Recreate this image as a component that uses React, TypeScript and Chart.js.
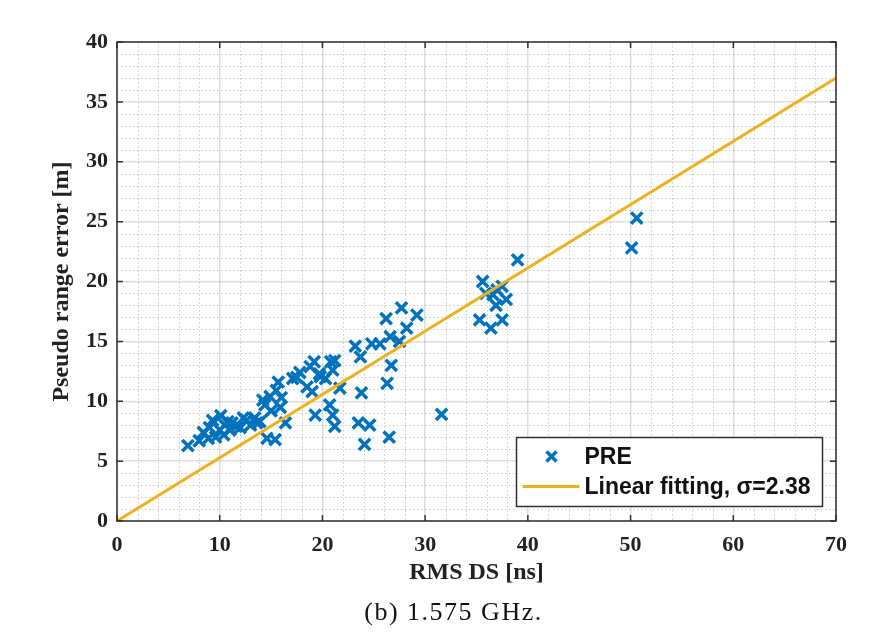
import React, { useEffect, useRef } from "react";
import { Chart, registerables } from "chart.js";
Chart.register(...registerables);

// PRE scatter data (RMS DS [ns], pseudo range error [m])
const preX = [
  6.9, 8.4, 8.9, 9.3, 10.1, 10.8, 11.6, 12.6, 13.4, 13.9, 14.6, 15.4, 16.4, 14.2, 14.9,
  15.7, 15.9, 15.5, 17.1, 8.0, 9.6, 10.0, 10.5, 11.2, 12.0, 12.3, 13.0, 9.0, 10.4, 11.0,
  13.6, 14.4, 15.0, 16.0, 18.8, 19.7, 18.5, 21.2, 21.7, 19.3, 20.7, 21.0, 21.2, 23.2, 23.7,
  23.8, 23.5, 24.6, 24.1, 26.5, 26.3, 26.7, 24.8, 25.6, 26.6, 27.5, 26.2, 28.2, 27.7, 29.2,
  31.6, 35.6, 37.5, 36.6, 37.9, 36.9, 35.3, 36.4, 37.5, 39.0, 50.1, 50.6, 20.3, 20.8, 19.2,
  17.8, 17.5, 19.0, 35.9, 37.0, 21.0, 19.8,
];
const preY = [
  6.3, 7.4, 6.9, 8.4, 8.8, 8.3, 7.9, 8.4, 8.6, 8.3, 6.9, 6.8, 8.2, 10.1, 10.4,
  11.6, 9.5, 10.9, 11.9, 6.7, 7.0, 7.6, 8.0, 8.2, 7.8, 8.6, 8.0, 7.8, 7.2, 7.6,
  8.2, 9.7, 9.2, 10.3, 12.9, 12.3, 11.2, 13.4, 11.1, 8.85, 9.7, 8.85, 7.9, 14.6, 13.7,
  10.7, 8.2, 8.0, 6.4, 7.0, 11.5, 13.0, 14.8, 14.8, 15.4, 15.0, 16.9, 16.1, 17.8, 17.2,
  8.9, 20.0, 19.6, 18.9, 18.5, 18.0, 16.8, 16.1, 16.8, 21.8, 22.8, 25.3, 11.9, 13.3, 13.3,
  12.4, 12.0, 10.8, 19.0, 19.3, 12.6, 12.05,
];

// Linear fit endpoints
const fitX = [0, 70];
const fitY = [0, 37];

const xMin = 0, xMax = 70, xMajor = 10, xMinor = 2;
const yMin = 0, yMax = 40, yMajor = 5, yMinor = 1;

const xLabel = "RMS DS [ns]";
const yLabel = "Pseudo range error [m]";
const caption = "(b) 1.575 GHz.";
const seriesLabels = ["PRE", "Linear fitting, \u03c3=2.38"];

const BLUE = "#0072BD";
const GOLD = "#EDB120";
const SERIF = "'Liberation Serif', 'Times New Roman', serif";
const SANS = "'Liberation Sans', Arial, sans-serif";

const minorGridPlugin = {
  id: "minorGrid",
  beforeDatasetsDraw(chart: any) {
    const { ctx, chartArea: a, scales } = chart;
    const xs = scales.x, ys = scales.y;
    ctx.save();
    ctx.strokeStyle = "rgba(0,0,0,0.2)";
    ctx.lineWidth = 1;
    ctx.setLineDash([1.5, 2.5]);
    for (let v = xMin + xMinor; v < xMax; v += xMinor) {
      if (Math.abs(v / xMajor - Math.round(v / xMajor)) < 1e-6) continue;
      const px = Math.round(xs.getPixelForValue(v)) + 0.5;
      ctx.beginPath();
      ctx.moveTo(px, a.top);
      ctx.lineTo(px, a.bottom);
      ctx.stroke();
    }
    for (let v = yMin + yMinor; v < yMax; v += yMinor) {
      if (Math.abs(v / yMajor - Math.round(v / yMajor)) < 1e-6) continue;
      const py = Math.round(ys.getPixelForValue(v)) + 0.5;
      ctx.beginPath();
      ctx.moveTo(a.left, py);
      ctx.lineTo(a.right, py);
      ctx.stroke();
    }
    ctx.restore();
  },
};

const framePlugin = {
  id: "frame",
  afterDatasetsDraw(chart: any) {
    const { ctx, chartArea: a, scales } = chart;
    ctx.save();
    ctx.strokeStyle = "#303030";
    ctx.lineWidth = 1.5;
    ctx.setLineDash([]);
    ctx.strokeRect(a.left, a.top, a.right - a.left, a.bottom - a.top);
    const tl = 6;
    ctx.beginPath();
    for (let v = xMin; v <= xMax; v += xMajor) {
      const px = scales.x.getPixelForValue(v);
      ctx.moveTo(px, a.bottom);
      ctx.lineTo(px, a.bottom - tl);
      ctx.moveTo(px, a.top);
      ctx.lineTo(px, a.top + tl);
    }
    for (let v = yMin; v <= yMax; v += yMajor) {
      const py = scales.y.getPixelForValue(v);
      ctx.moveTo(a.left, py);
      ctx.lineTo(a.left + tl, py);
      ctx.moveTo(a.right, py);
      ctx.lineTo(a.right - tl, py);
    }
    ctx.stroke();
    ctx.restore();
  },
};

const legendPlugin = {
  id: "boxLegend",
  afterDraw(chart: any) {
    const { ctx, chartArea: a } = chart;
    const ds = chart.data.datasets;
    const w = 306, h = 69;
    const x0 = a.right - 13.5 - w;
    const y0 = a.bottom - 14.5 - h;
    ctx.save();
    ctx.fillStyle = "#ffffff";
    ctx.fillRect(x0, y0, w, h);
    ctx.strokeStyle = "#303030";
    ctx.lineWidth = 1.5;
    ctx.strokeRect(x0, y0, w, h);
    // row 1: marker
    const r1 = y0 + 19;
    const mx = x0 + 35;
    const off = 5;
    ctx.strokeStyle = ds[0].borderColor;
    ctx.lineWidth = 3.5;
    ctx.beginPath();
    ctx.moveTo(mx - off, r1 - off);
    ctx.lineTo(mx + off, r1 + off);
    ctx.moveTo(mx + off, r1 - off);
    ctx.lineTo(mx - off, r1 + off);
    ctx.stroke();
    // row 2: line
    const r2 = y0 + 49;
    ctx.strokeStyle = ds[1].borderColor;
    ctx.lineWidth = 3;
    ctx.beginPath();
    ctx.moveTo(x0 + 6, r2);
    ctx.lineTo(x0 + 63, r2);
    ctx.stroke();
    ctx.fillStyle = "#111111";
    ctx.font = `bold 23px ${SANS}`;
    ctx.textBaseline = "middle";
    ctx.textAlign = "left";
    ctx.fillText(ds[0].label, x0 + 68, r1 + 1);
    ctx.fillText(ds[1].label, x0 + 68, r2 + 1);
    ctx.restore();
  },
};

const captionPlugin = {
  id: "caption",
  afterDraw(chart: any) {
    const { ctx, chartArea: a } = chart;
    ctx.save();
    ctx.fillStyle = "#111111";
    ctx.font = `26px ${SERIF}`;
    (ctx as any).letterSpacing = "1.5px";
    ctx.textAlign = "center";
    ctx.textBaseline = "middle";
    ctx.fillText(caption, (a.left + a.right) / 2 - 23, a.bottom + 92);
    ctx.restore();
  },
};

export default function App() {
  const ref = useRef<HTMLCanvasElement | null>(null);
  useEffect(() => {
    if (!ref.current) return;
    const tickFont = { family: SERIF, weight: "bold" as const, size: 22 };
    const titleFont = { family: SERIF, weight: "bold" as const, size: 24 };
    const chart = new Chart(ref.current, {
      type: "scatter",
      data: {
        datasets: [
          {
            label: seriesLabels[0],
            data: preX.map((x, i) => ({ x, y: preY[i] })),
            pointStyle: "crossRot",
            pointRadius: 8,
            pointBorderWidth: 3.5,
            borderColor: BLUE,
            backgroundColor: BLUE,
            order: 2,
          },
          {
            label: seriesLabels[1],
            data: fitX.map((x, i) => ({ x, y: fitY[i] })),
            showLine: true,
            pointRadius: 0,
            borderColor: GOLD,
            backgroundColor: GOLD,
            borderWidth: 3,
            order: 1,
          },
        ],
      },
      options: {
        responsive: false,
        animation: false,
        devicePixelRatio: 1,
        layout: { padding: { top: 42, right: 42, left: 0, bottom: 0 } },
        plugins: { legend: { display: false }, tooltip: { enabled: false } },
        scales: {
          x: {
            type: "linear",
            min: xMin,
            max: xMax,
            ticks: { stepSize: xMajor, font: tickFont, color: "#222", padding: 11, maxRotation: 0 },
            grid: { color: "rgba(0,0,0,0.13)", lineWidth: 1.5, drawTicks: false },
            border: { display: false },
            title: { display: true, text: xLabel, font: titleFont, color: "#222", padding: { top: 0, bottom: 45 } },
            afterFit: (s: any) => { s.height = 111; },
          },
          y: {
            type: "linear",
            min: yMin,
            max: yMax,
            ticks: { stepSize: yMajor, font: tickFont, color: "#222", padding: 9 },
            grid: { color: "rgba(0,0,0,0.13)", lineWidth: 1.5, drawTicks: false },
            border: { display: false },
            title: { display: true, text: yLabel, font: titleFont, color: "#222", padding: { top: 47, bottom: 0 } },
            afterFit: (s: any) => { s.width = 117; },
          },
        },
      },
      plugins: [minorGridPlugin, framePlugin, legendPlugin, captionPlugin],
    });
    return () => chart.destroy();
  }, []);
  return (
    <div style={{ position: "fixed", left: 0, top: 0, width: 878, height: 632, background: "#fff" }}>
      <canvas ref={ref} width={878} height={632} style={{ display: "block" }} />
    </div>
  );
}
